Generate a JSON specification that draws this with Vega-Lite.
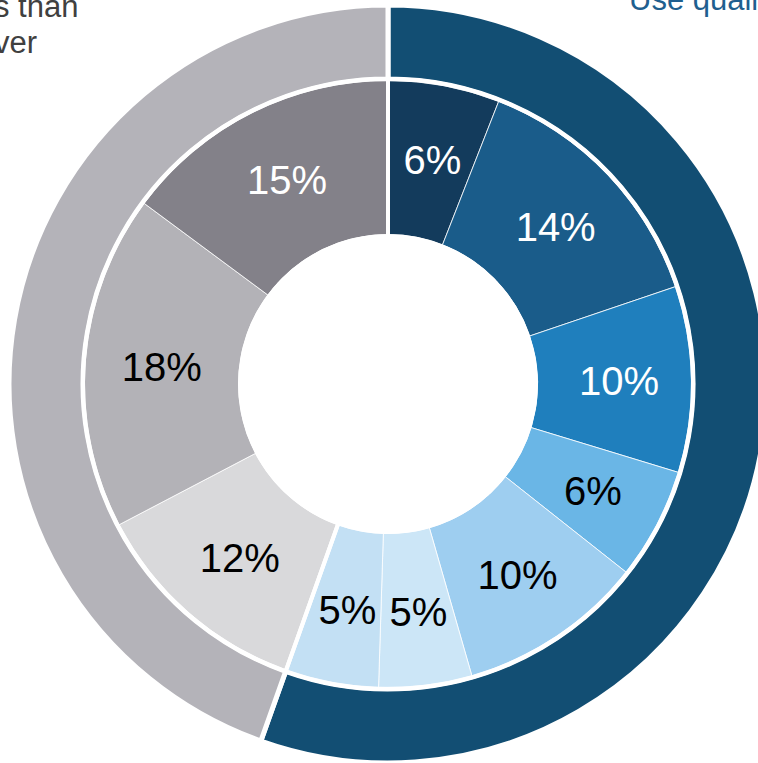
{
  "$schema": "https://vega.github.io/schema/vega-lite/v6.json",
  "width": 776,
  "height": 768,
  "padding": 0,
  "autosize": "none",
  "background": "white",
  "view": {"stroke": null},
  "config": {"font": "Liberation Sans"},
  "datasets": {
    "outer": [
      {"group": "Blue", "value": 56, "order": 1},
      {"group": "Grey", "value": 45, "order": 2}
    ],
    "inner": [
      {"slice": "B1", "group": "Blue", "value": 6, "order": 1, "label": "6%"},
      {"slice": "B2", "group": "Blue", "value": 14, "order": 2, "label": "14%"},
      {"slice": "B3", "group": "Blue", "value": 10, "order": 3, "label": "10%"},
      {"slice": "B4", "group": "Blue", "value": 6, "order": 4, "label": "6%"},
      {"slice": "B5", "group": "Blue", "value": 10, "order": 5, "label": "10%"},
      {"slice": "B6", "group": "Blue", "value": 5, "order": 6, "label": "5%"},
      {"slice": "B7", "group": "Blue", "value": 5, "order": 7, "label": "5%"},
      {"slice": "G1", "group": "Grey", "value": 12, "order": 8, "label": "12%"},
      {"slice": "G2", "group": "Grey", "value": 18, "order": 9, "label": "18%"},
      {"slice": "G3", "group": "Grey", "value": 15, "order": 10, "label": "15%"}
    ],
    "notes": [
      {"side": "left", "text": ["s than", "ver"]},
      {"side": "right", "text": ["Use quality"]}
    ]
  },
  "resolve": {"scale": {"color": "independent", "theta": "independent"}},
  "layer": [
    {
      "data": {"name": "outer"},
      "mark": {"type": "arc", "innerRadius": 305, "outerRadius": 379, "stroke": "white", "strokeWidth": 5},
      "encoding": {
        "theta": {"field": "value", "type": "quantitative", "stack": true},
        "order": {"field": "order", "type": "quantitative"},
        "color": {"field": "group", "type": "nominal", "legend": null,
          "scale": {"domain": ["Blue", "Grey"], "range": ["#124e73", "#b4b3b9"]}}
      }
    },
    {
      "data": {"name": "inner"},
      "mark": {"type": "arc", "innerRadius": 149.5, "outerRadius": 303.5, "stroke": "white", "strokeWidth": 0.8},
      "encoding": {
        "theta": {"field": "value", "type": "quantitative", "stack": true},
        "order": {"field": "order", "type": "quantitative"},
        "color": {"field": "slice", "type": "nominal", "legend": null,
          "scale": {"domain": ["B1","B2","B3","B4","B5","B6","B7","G1","G2","G3"],
            "range": ["#133b5c","#1a5c8a","#1f7fbd","#6ab6e6","#9ecef0","#cce6f7","#c3e0f4","#d9d9db","#b3b2b7","#838189"]}}
      }
    },
    {
      "data": {"name": "outer"},
      "mark": {"type": "arc", "innerRadius": 148, "outerRadius": 305, "fill": "transparent", "stroke": "white", "strokeWidth": 4},
      "encoding": {
        "theta": {"field": "value", "type": "quantitative", "stack": true},
        "order": {"field": "order", "type": "quantitative"}
      }
    },
    {
      "data": {"name": "inner"},
      "mark": {"type": "text", "radius": 229, "fontSize": 40, "dx": 2, "dy": 3, "font": "Liberation Sans", "align": "center", "baseline": "middle"},
      "encoding": {
        "theta": {"field": "value", "type": "quantitative", "stack": true},
        "order": {"field": "order", "type": "quantitative"},
        "text": {"field": "label", "type": "nominal"},
        "color": {"condition": {"test": "datum.order <= 3 || datum.order == 10", "value": "white"}, "value": "black"}
      }
    },
    {
      "data": {"name": "notes"},
      "transform": [{"filter": "datum.side == 'left'"}],
      "mark": {"type": "text", "x": -6, "y": 17, "align": "left", "baseline": "alphabetic", "fontSize": 31, "lineHeight": 36, "font": "Liberation Sans", "color": "#404040"},
      "encoding": {"text": {"field": "text"}}
    },
    {
      "data": {"name": "notes"},
      "transform": [{"filter": "datum.side == 'right'"}],
      "mark": {"type": "text", "x": 629, "y": 10, "align": "left", "baseline": "alphabetic", "fontSize": 31, "font": "Liberation Sans", "color": "#1f5f8f"},
      "encoding": {"text": {"field": "text"}}
    }
  ]
}
